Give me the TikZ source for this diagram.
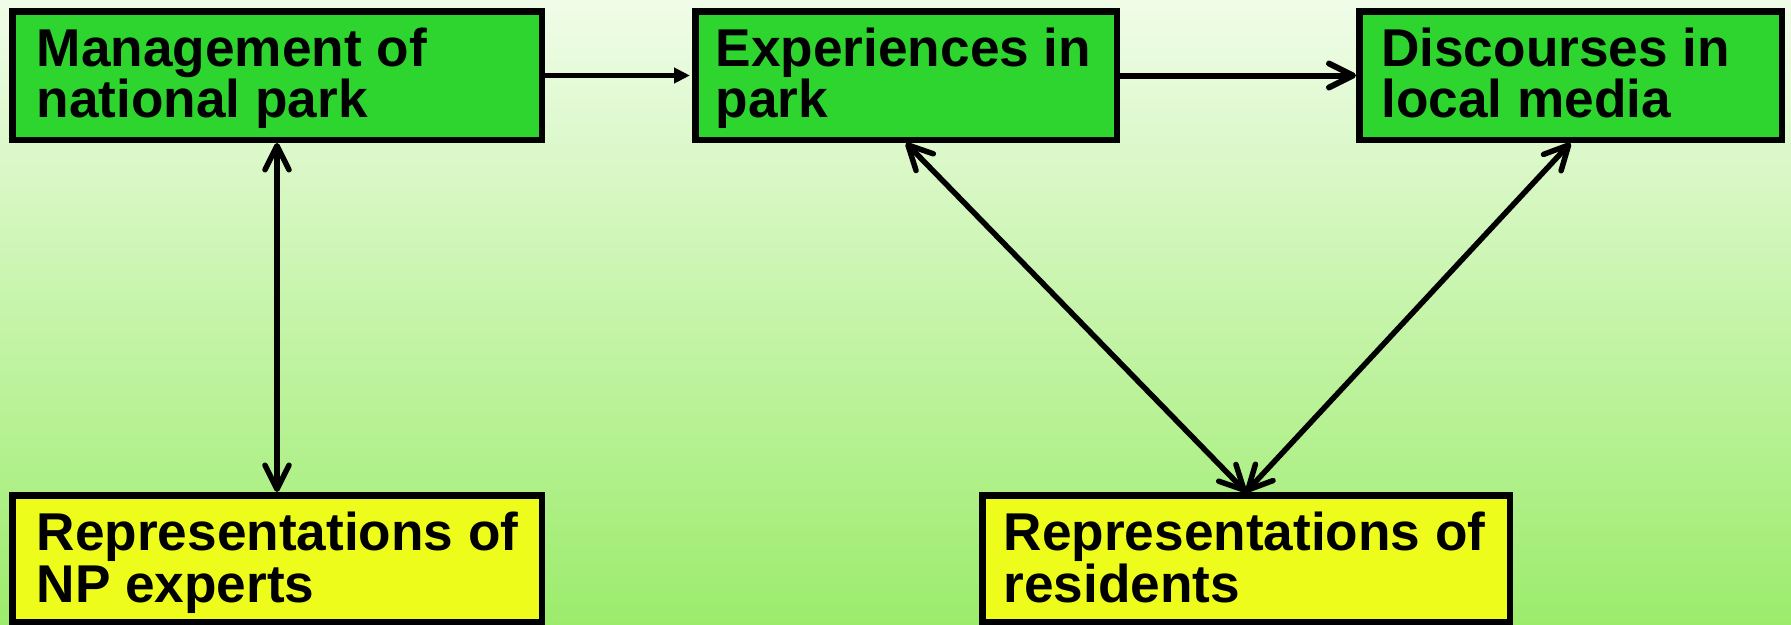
\documentclass[tikz,border=0pt]{standalone}
\usepackage{fontspec}
\setmainfont{Liberation Sans}
\usetikzlibrary{arrows.meta}
\definecolor{boxgreen}{RGB}{47,213,47}
\definecolor{boxyellow}{RGB}{238,252,28}
\definecolor{bgtop}{RGB}{240,252,232}
\definecolor{bgbot}{RGB}{156,236,108}
\tikzset{
  box/.style={draw=black, line width=6.5pt, minimum height=128.5pt, inner sep=0pt},
  greenbox/.style={box, fill=boxgreen},
  yellowbox/.style={box, fill=boxyellow, minimum height=126.5pt},
  lbl/.style={anchor=base west, inner sep=0pt, align=left, font=\bfseries\fontsize{53.2}{51.5}\selectfont},
  barb/.style={line width=5.5pt, {Straight Barb[round,length=24pt,width=24pt]}-{Straight Barb[round,length=24pt,width=24pt]}},
}
\begin{document}
\begin{tikzpicture}[x=1pt,y=-1pt]
\shade[top color=bgtop, bottom color=bgbot] (0,0) rectangle (1791,624);
\useasboundingbox (0,0) rectangle (1791,624);
% boxes
\node[greenbox, minimum width=529.5pt] (mgmt) at (277,75.5) {};
\node[greenbox, minimum width=421.5pt] (exp) at (906,75.5) {};
\node[greenbox, minimum width=422.5pt] (disc) at (1570.5,75.5) {};
\node[yellowbox, minimum width=529.5pt] (npexp) at (277,558.5) {};
\node[yellowbox, minimum width=527.5pt] (res) at (1246,558.5) {};
% texts (anchor base = baseline of last line)
\node[lbl] (tmgmt) at (36.5,117.5) {Management of\\national park};
\node[lbl] (texp) at (715.5,117.5) {Experiences in\\park};
\node[lbl] (tdisc) at (1381,117.5) {Discourses in\\local media};
\node[lbl] (tnpexp) at (36.5,602) {Representations of\\NP experts};
\node[lbl] (tres) at (1003.5,602) {Representations of\\residents};
% connectors
\draw[line width=5pt, -{Triangle[length=16pt,width=15pt]}, shorten >=2pt] (mgmt.east) -- (exp.west);
\draw[line width=6pt, -{Straight Barb[round,length=24pt,width=24pt]}] (exp.east) -- (disc.west);
\draw[barb] (mgmt.south) -- (npexp.north);
\draw[barb] (exp.south) -- (res.north);
\draw[barb] (disc.south) -- (res.north);
\end{tikzpicture}
\end{document}
